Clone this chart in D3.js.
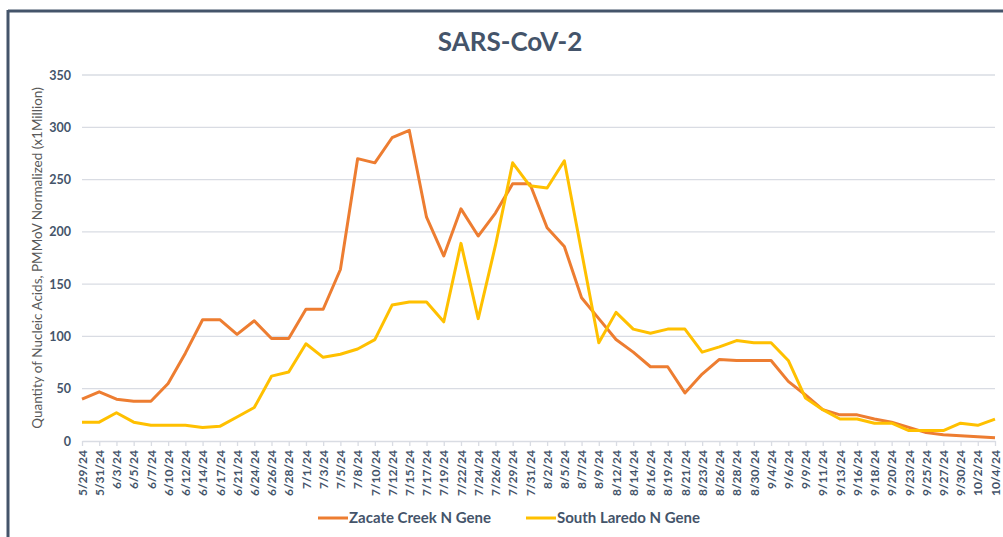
<!DOCTYPE html>
<html>
<head>
<meta charset="utf-8">
<script src="https://cdn.jsdelivr.net/npm/d3@7"></script>
<style>
  html, body { margin: 0; padding: 0; background: #fff; }
  svg { display: block; font-family: Lato, "Open Sans", sans-serif; }
</style>
</head>
<body>
<svg id="chart" width="1003" height="537"></svg>
<script>
const dates = ["5/29/24","5/31/24","6/3/24","6/5/24","6/7/24","6/10/24","6/12/24","6/14/24","6/17/24","6/21/24",
  "6/24/24","6/26/24","6/28/24","7/1/24","7/3/24","7/5/24","7/8/24","7/10/24","7/12/24","7/15/24",
  "7/17/24","7/19/24","7/22/24","7/24/24","7/26/24","7/29/24","7/31/24","8/2/24","8/5/24","8/7/24",
  "8/9/24","8/12/24","8/14/24","8/16/24","8/19/24","8/21/24","8/23/24","8/26/24","8/28/24","8/30/24",
  "9/4/24","9/6/24","9/9/24","9/11/24","9/13/24","9/16/24","9/18/24","9/20/24","9/23/24","9/25/24",
  "9/27/24","9/30/24","10/2/24","10/4/24"];

const zacateCreek = [40, 47, 40, 38, 38, 55, 84, 116, 116, 102,
  115, 98, 98, 126, 126, 164, 270, 266, 290, 297,
  214, 177, 222, 196, 218, 246, 246, 204, 186, 137,
  117, 97, 85, 71, 71, 46, 64, 78, 77, 77,
  77, 57, 44, 30, 25, 25, 21, 18, 13, 8,
  6, 5, 4, 3];

const southLaredo = [18, 18, 27, 18, 15, 15, 15, 13, 14, 23,
  32, 62, 66, 93, 80, 83, 88, 97, 130, 133,
  133, 114, 189, 117, 187, 266, 244, 242, 268, 181,
  94, 123, 107, 103, 107, 107, 85, 90, 96, 94,
  94, 77, 41, 30, 21, 21, 17, 17, 10, 10,
  10, 17, 15, 21];

const yTicks = [0, 50, 100, 150, 200, 250, 300, 350];

const seriesNames = ["Zacate Creek N Gene", "South Laredo N Gene"];
const seriesColors = ["#ED7D31", "#FFC000"];

const svg = d3.select("#chart");
const W = 1003, H = 537;
const plot = { left: 82, right: 995, top: 75, bottom: 441 };

// frame
svg.append("line").attr("x1", 8).attr("x2", W).attr("y1", 11).attr("y2", 11)
  .attr("stroke", "#44546A").attr("stroke-width", 3);
svg.append("line").attr("x1", 8).attr("x2", 8).attr("y1", 10).attr("y2", H)
  .attr("stroke", "#44546A").attr("stroke-width", 3);

const x = d3.scalePoint().domain(dates).range([plot.left, plot.right]);
const y = d3.scaleLinear().domain([0, 350]).range([plot.bottom, plot.top]);

// gridlines
svg.append("g")
  .selectAll("line").data(yTicks.filter(d => d > 0)).join("line")
  .attr("x1", plot.left).attr("x2", plot.right)
  .attr("y1", d => y(d)).attr("y2", d => y(d))
  .attr("stroke", "#D9DCE3").attr("stroke-width", 1.3);

// y axis
const yAxis = svg.append("g").attr("transform", `translate(${plot.left},0)`)
  .call(d3.axisLeft(y).tickValues(yTicks).tickSize(0).tickPadding(11));
yAxis.select(".domain").remove();
yAxis.selectAll("text").attr("font-size", 12.5).attr("font-weight", "bold")
  .attr("fill", "#44546A").attr("font-family", "Lato, sans-serif");

// x axis
const xAxis = svg.append("g").attr("transform", `translate(0,${plot.bottom})`)
  .call(d3.axisBottom(x).tickSizeInner(5).tickSizeOuter(0).tickPadding(4));
xAxis.select(".domain").attr("stroke", "#D9DCE3").attr("stroke-width", 1.3);
xAxis.selectAll(".tick line").attr("stroke", "#D9DCE3").attr("stroke-width", 1.3);
xAxis.selectAll("text")
  .attr("font-size", 12).attr("font-weight", "bold").attr("fill", "#44546A")
  .attr("font-family", "Lato, sans-serif")
  .attr("text-anchor", "end")
  .attr("transform", "rotate(-90)")
  .attr("x", -9).attr("y", 0).attr("dy", "0.35em");

// lines
const line = d3.line().x((d, i) => x(dates[i])).y(d => y(d));
[zacateCreek, southLaredo].forEach((s, k) => {
  svg.append("path").datum(s)
    .attr("fill", "none").attr("stroke", seriesColors[k])
    .attr("stroke-width", 3).attr("stroke-linejoin", "round")
    .attr("d", line);
});

// title
svg.append("text").attr("x", 510).attr("y", 51).attr("text-anchor", "middle")
  .attr("font-size", 26).attr("font-weight", "bold").attr("fill", "#44546A")
  .text("SARS-CoV-2");

// y-axis title
svg.append("text")
  .attr("transform", `translate(42,258) rotate(-90)`)
  .attr("text-anchor", "middle")
  .attr("font-size", 13.5).attr("fill", "#595959")
  .text("Quantity of Nucleic Acids, PMMoV Normalized (x1Million)");

// legend
const legendX = [318, 526];
seriesNames.forEach((n, k) => {
  const g = svg.append("g").attr("transform", `translate(${legendX[k]},518)`);
  g.append("line").attr("x1", 0).attr("x2", 30).attr("y1", 0).attr("y2", 0)
    .attr("stroke", seriesColors[k]).attr("stroke-width", 3);
  g.append("text").attr("x", 31).attr("y", 0).attr("dy", "0.35em")
    .attr("font-size", 15).attr("font-weight", "bold").attr("fill", "#44546A")
    .text(n);
});
</script>
</body>
</html>
